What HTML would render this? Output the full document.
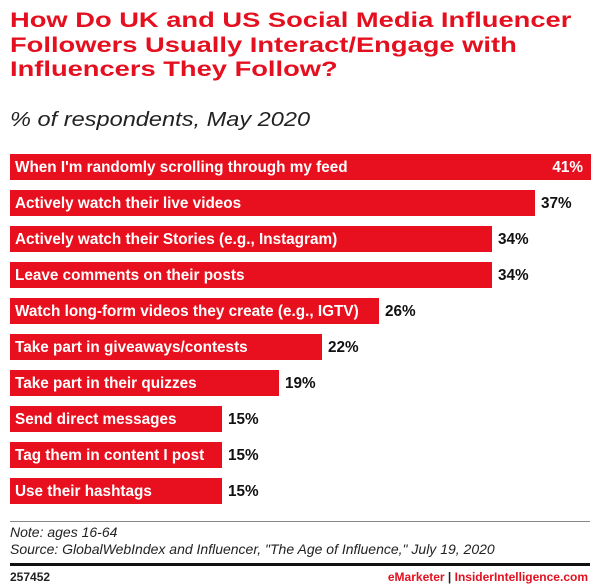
<!DOCTYPE html>
<html><head><style>
body{margin:0;width:600px;height:586px;background:#fff;font-family:"Liberation Sans",sans-serif;position:relative;overflow:hidden}
.t{position:absolute;left:10px;top:8px;color:#e4101f;font-weight:bold;font-size:21.5px;line-height:24.5px;white-space:nowrap;transform:scaleX(1.27);transform-origin:0 0}
.s{position:absolute;left:10px;top:108px;font-style:italic;font-size:20.5px;color:#222;white-space:nowrap;transform:scaleX(1.15);transform-origin:0 0}
.bar{position:absolute;left:10px;height:26px;background:#e8101e;color:#fff;font-weight:bold;font-size:15.3px;line-height:28px;box-sizing:border-box;padding-left:5px;white-space:nowrap}
.v{position:absolute;font-weight:bold;font-size:15.3px;line-height:28px;color:#111}
.n{position:absolute;left:10px;font-style:italic;font-size:14px;color:#222;white-space:nowrap}
</style></head><body>
<div class="t">How Do UK and US Social Media Influencer<br>Followers Usually Interact/Engage with<br>Influencers They Follow?</div>
<div class="s">% of respondents, May 2020</div>
<div class="bar" style="top:154px;width:581px">When I'm randomly scrolling through my feed<span style="position:absolute;right:8px">41%</span></div>
<div class="bar" style="top:190px;width:525px">Actively watch their live videos</div><div class="v" style="top:190px;left:541px">37%</div>
<div class="bar" style="top:226px;width:482px">Actively watch their Stories (e.g., Instagram)</div><div class="v" style="top:226px;left:498px">34%</div>
<div class="bar" style="top:262px;width:482px">Leave comments on their posts</div><div class="v" style="top:262px;left:498px">34%</div>
<div class="bar" style="top:298px;width:369px">Watch long-form videos they create (e.g., IGTV)</div><div class="v" style="top:298px;left:385px">26%</div>
<div class="bar" style="top:334px;width:312px">Take part in giveaways/contests</div><div class="v" style="top:334px;left:328px">22%</div>
<div class="bar" style="top:370px;width:269px">Take part in their quizzes</div><div class="v" style="top:370px;left:285px">19%</div>
<div class="bar" style="top:406px;width:212px">Send direct messages</div><div class="v" style="top:406px;left:228px">15%</div>
<div class="bar" style="top:442px;width:212px">Tag them in content I post</div><div class="v" style="top:442px;left:228px">15%</div>
<div class="bar" style="top:478px;width:212px">Use their hashtags</div><div class="v" style="top:478px;left:228px">15%</div>
<div style="position:absolute;left:10px;right:10px;top:521px;height:1px;background:#888"></div>
<div class="n" style="top:524px">Note: ages 16-64</div>
<div class="n" style="top:541px">Source: GlobalWebIndex and Influencer, "The Age of Influence," July 19, 2020</div>
<div style="position:absolute;left:10px;right:10px;top:563px;height:3px;background:#111"></div>
<div style="position:absolute;left:10px;top:570px;font-size:12px;font-weight:bold;color:#222">257452</div>
<div style="position:absolute;right:12px;top:570px;font-size:12px;font-weight:bold;color:#e4101f">eMarketer <span style="color:#222">|</span> InsiderIntelligence.com</div>
</body></html>
